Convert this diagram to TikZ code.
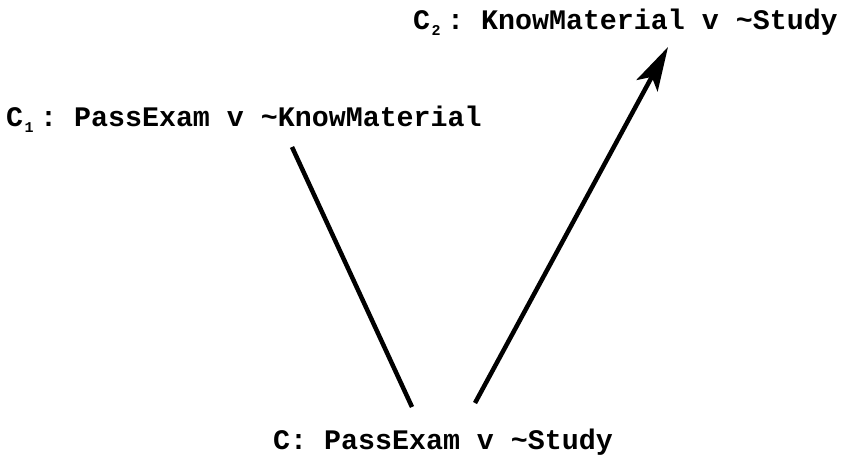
\documentclass[tikz,border=0pt]{standalone}
\usepackage{fontspec}
\setmonofont{Liberation Mono}
\usetikzlibrary{arrows.meta}
\newcommand{\subcell}[1]{\makebox[0.6em][l]{\hspace{0.05em}\raisebox{-0.22em}{\fontsize{15}{15}\selectfont #1}}}
\begin{document}
\begin{tikzpicture}[x=1pt,y=-1pt,
  lbl/.style={anchor=base west,inner sep=0pt,font=\fontsize{28.3}{30}\selectfont\ttfamily\bfseries},
  link/.style={line width=4.5pt}]
\useasboundingbox (0,0) rectangle (842,464);
\node[lbl] (c1) at (6,126) {C\subcell{1}: PassExam v \char`\~KnowMaterial};
\node[lbl] (c2) at (413,29) {C\subcell{2}: KnowMaterial v \char`\~Study};
\node[lbl] (c) at (273,449) {C: PassExam v \char`\~Study};
\coordinate (a1) at (292,147);
\coordinate (a2) at (412,407);
\coordinate (b1) at (475,403);
\coordinate (b2) at (668,47);
\draw[link] (a1) -- (a2);
\draw[link,-{Stealth[length=44pt,width=24pt,inset=10pt]}] (b1) -- (b2);
\end{tikzpicture}
\end{document}
